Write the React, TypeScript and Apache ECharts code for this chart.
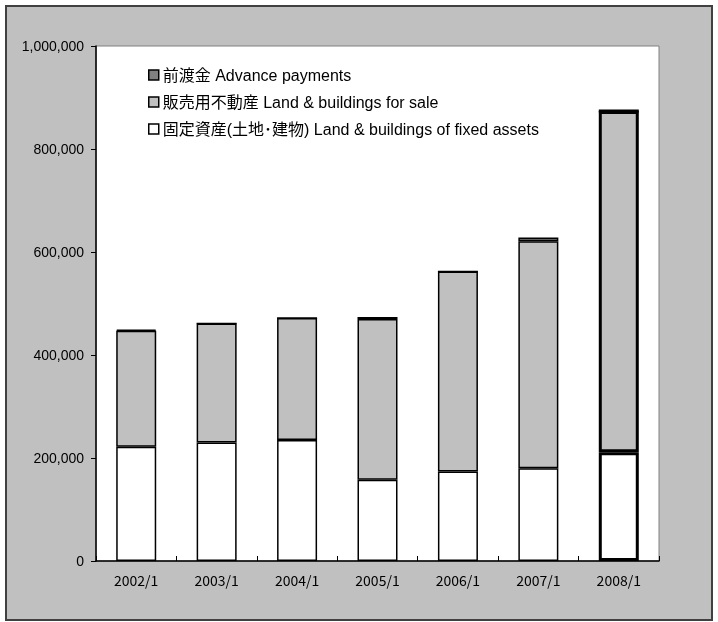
import React, { useEffect, useRef } from "react";
import * as echarts from "echarts";

const categories = ["2002/1", "2003/1", "2004/1", "2005/1", "2006/1", "2007/1", "2008/1"];
const fixedAssets = [222000, 230000, 235000, 158000, 174000, 180000, 211000];
const forSale = [225000, 231000, 237000, 312000, 388000, 441000, 663000];
const advance = [2000, 0, 0, 4000, 0, 7000, 0];
const yTicks = [0, 200000, 400000, 600000, 800000, 1000000];

const nameAdvance = "前渡金 Advance payments";
const nameSale = "販売用不動産 Land & buildings for sale";
const nameFixed = "固定資産(土地･建物) Land & buildings of fixed assets";

const highlightIndex = 6;

function mk(values: number[]) {
  return values.map((v, i) =>
    i === highlightIndex ? { value: v, itemStyle: { borderWidth: 3 } } : v
  );
}

export default function App() {
  const ref = useRef<HTMLDivElement>(null);
  useEffect(() => {
    if (!ref.current) return;
    const chart = echarts.init(ref.current, null, { renderer: "svg" });
    const font = "Liberation Sans, Arial, 'Noto Sans CJK JP', sans-serif";
    chart.setOption({
      animation: false,
      textStyle: { fontFamily: font },
      graphic: [
        {
          type: "rect",
          z: -10,
          silent: true,
          shape: { x: 6, y: 6, width: 706, height: 614 },
          style: { fill: "#c0c0c0", stroke: "#404040", lineWidth: 2 },
        },
      ],
      grid: {
        left: 96,
        right: 59,
        top: 46,
        bottom: 61,
        show: true,
        backgroundColor: "#ffffff",
        borderColor: "#808080",
        borderWidth: 1,
        z: 0,
      },
      legend: {
        orient: "vertical",
        left: 143,
        top: 62,
        itemWidth: 10,
        itemHeight: 10,
        itemGap: 11,
        icon: "rect",
        data: [nameAdvance, nameSale, nameFixed],
        textStyle: { fontSize: 16, color: "#000", fontFamily: font, padding: [0, 0, 0, -1] },
        itemStyle: { borderColor: "#000", borderWidth: 1.5 },
      },
      xAxis: {
        type: "category",
        data: categories,
        axisLine: { lineStyle: { color: "#000", width: 1.5 } },
        axisTick: { show: true, inside: true, length: 5, lineStyle: { color: "#000" } },
        axisLabel: {
          color: "#000",
          fontSize: 14,
          margin: 12,
          fontFamily: "'Noto Sans CJK JP', sans-serif",
        },
        splitLine: { show: false },
      },
      yAxis: {
        type: "value",
        min: 0,
        max: 1000000,
        interval: 200000,
        axisLine: { show: true, lineStyle: { color: "#000", width: 1.5 } },
        axisTick: { show: true, inside: false, length: 5, lineStyle: { color: "#000" } },
        axisLabel: {
          color: "#000",
          fontSize: 14,
          margin: 12,
          formatter: (v: number) =>
            yTicks.includes(v) ? v.toLocaleString("en-US") : "",
        },
        splitLine: { show: false },
      },
      series: [
        {
          name: nameFixed,
          type: "bar",
          stack: "total",
          barWidth: 40,
          data: mk(fixedAssets),
          itemStyle: { color: "#ffffff", borderColor: "#000", borderWidth: 1.5 },
        },
        {
          name: nameSale,
          type: "bar",
          stack: "total",
          barWidth: 40,
          data: mk(forSale),
          itemStyle: { color: "#c0c0c0", borderColor: "#000", borderWidth: 1.5 },
        },
        {
          name: nameAdvance,
          type: "bar",
          stack: "total",
          barWidth: 40,
          data: mk(advance),
          itemStyle: { color: "#808080", borderColor: "#000", borderWidth: 1.5 },
        },
      ],
    });
    return () => chart.dispose();
  }, []);
  return (
    <div
      ref={ref}
      style={{ position: "fixed", left: 0, top: 0, width: 718, height: 622 }}
    />
  );
}
